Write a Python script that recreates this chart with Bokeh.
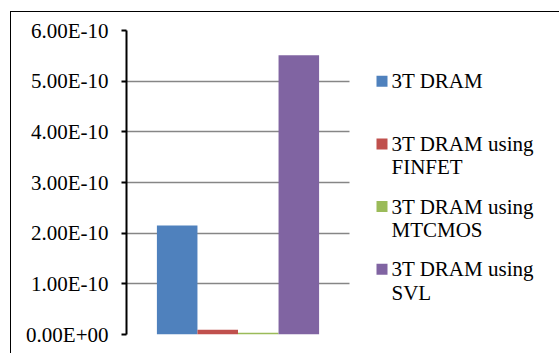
from bokeh.plotting import figure
from bokeh.models import Range1d, ColumnDataSource, FixedTicker
from bokeh.core.properties import value
from bokeh.embed import file_html
from bokeh.resources import INLINE

# ---- data ----
series = ["3T DRAM", "3T DRAM using\nFINFET", "3T DRAM using\nMTCMOS", "3T DRAM using\nSVL"]
values = [2.15e-10, 9.3e-12, 3.4e-12, 5.51e-10]
colors = ["#4F81BD", "#C0504D", "#9BBB59", "#8064A2"]
y_ticks = [0.0, 1e-10, 2e-10, 3e-10, 4e-10, 5e-10, 6e-10]
y_tick_labels = ["0.00E+00", "1.00E-10", "2.00E-10", "3.00E-10", "4.00E-10", "5.00E-10", "6.00E-10"]

# ---- layout constants (pixels) ----
FONT = "'Liberation Serif'"
GRID = "#868686"
FRAME_W = 434          # frame spans plot area + legend area
FRAME_H = 304
PLOT_W = 223           # width of the category (plot) area
LEG_SQ_X = 255.5       # legend square centre, px from frame left
LEG_TX_X = 265         # legend text left, px from frame left
LEG_Y0 = 50.7          # first legend row centre, px from frame top
LEG_DY = 62.7          # legend row spacing
LINE_DY = 23.5         # text line spacing

y0, y1 = y_ticks[0], y_ticks[-1]
def px_to_x(px):
    return px / PLOT_W
def py_to_y(py):
    return y1 - py / FRAME_H * (y1 - y0)

# Excel-like gap width 150%
gap = 1.5
n = len(values)
w = 1.0 / (n + gap)
xs = [0.5 + (i - (n - 1) / 2) * w for i in range(n)]

p = figure(width=549, height=342, x_range=Range1d(0, FRAME_W / PLOT_W), y_range=Range1d(y0, y1),
           output_backend="svg", toolbar_location=None,
           min_border_left=115, min_border_right=0, min_border_top=18, min_border_bottom=20)
p.margin = (11, 0, 0, 10)
p.styles = {"border-left": "1.5px solid black", "border-top": "1.5px solid black"}
p.outline_line_color = None

bars = ColumnDataSource(dict(x=xs, top=values, color=colors))
p.vbar(x="x", top="top", bottom=0, width=w, source=bars, fill_color="color", line_color=None)

# legend (drawn from the series / colour lists)
sq = dict(x=[], y=[], color=[])
tx = dict(x=[], y=[], text=[])
for i, (lab, col) in enumerate(zip(series, colors)):
    py = LEG_Y0 + i * LEG_DY
    sq["x"].append(px_to_x(LEG_SQ_X)); sq["y"].append(py_to_y(py)); sq["color"].append(col)
    for k, line in enumerate(lab.split("\n")):
        tx["x"].append(px_to_x(LEG_TX_X)); tx["y"].append(py_to_y(py + k * LINE_DY)); tx["text"].append(line)
p.scatter(x="x", y="y", marker="square", size=11, fill_color="color", line_color=None,
          source=ColumnDataSource(sq))
p.text(x="x", y="y", text="text", source=ColumnDataSource(tx), text_baseline="middle",
       text_align="left", text_font=value(FONT), text_font_size="21px", text_color="black")

# y axis
p.yaxis.ticker = FixedTicker(ticks=y_ticks)
p.yaxis.major_label_overrides = {t: l for t, l in zip(y_ticks, y_tick_labels)}
p.yaxis.major_label_text_font = FONT
p.yaxis.major_label_text_font_size = "21px"
p.yaxis.major_label_text_color = "black"
p.yaxis.axis_line_color = "black"
p.yaxis.axis_line_width = 2
p.yaxis.major_tick_line_color = "black"
p.yaxis.major_tick_line_width = 2
p.yaxis.major_tick_in = 0
p.yaxis.major_tick_out = 5
p.yaxis.minor_tick_line_color = None
p.yaxis.major_label_standoff = 13

p.xaxis.visible = False
p.xgrid.grid_line_color = None
p.ygrid.grid_line_color = GRID
p.ygrid.grid_line_width = 1.5
p.ygrid.cross_bounds = (0, 1)

open("out.html", "w").write(file_html(p, INLINE))
